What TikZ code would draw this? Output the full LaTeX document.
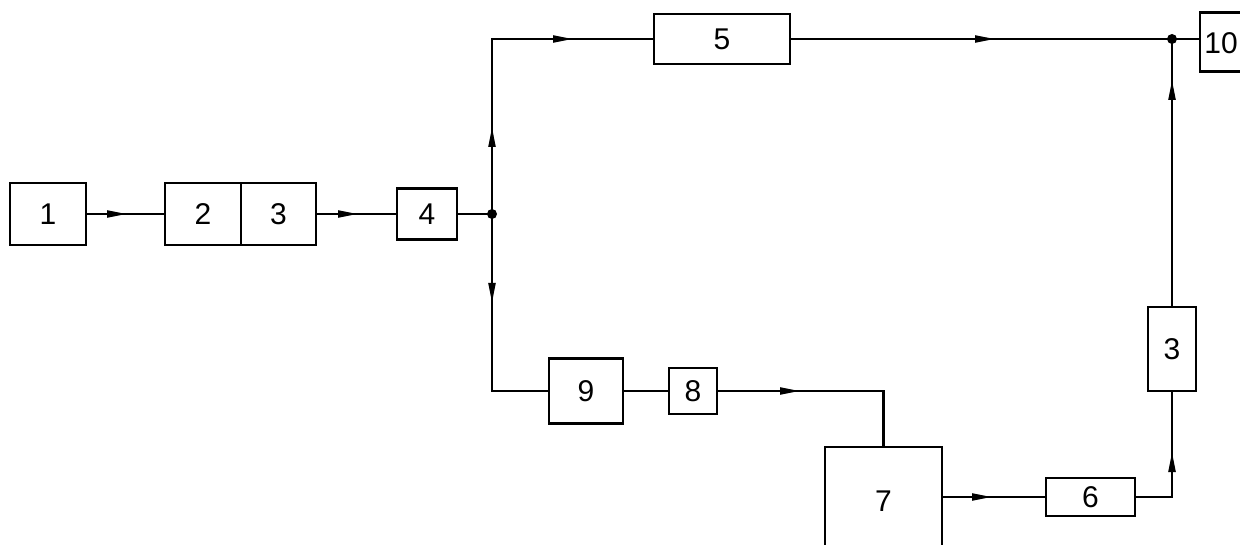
\documentclass[tikz,border=0pt]{standalone}
\usepackage{fontspec}
\setmainfont{Liberation Sans}
\usetikzlibrary{arrows.meta,decorations.markings}
\tikzset{
  blk/.style={draw, line width=2.5pt, inner sep=0pt, outer sep=0pt, font=\fontsize{30}{30}\selectfont},
  lbl/.style={inner sep=0pt, font=\fontsize{30}{30}\selectfont},
  conn/.style={line width=2.2pt},
  tipshape/.tip={Triangle[length=20pt,width=7pt]},
  arr/.style={postaction={decorate}, decoration={markings, mark=at position #1 with {\arrow{tipshape}}}},
  arrtwo/.style 2 args={postaction={decorate}, decoration={markings,
      mark=at position #1 with {\arrow{tipshape}},
      mark=at position #2 with {\arrow{tipshape}}}},
  jdot/.style={circle, fill, inner sep=0pt, minimum size=10pt},
}
\begin{document}
\begin{tikzpicture}[x=1pt,y=-1pt]
\useasboundingbox (0,0) rectangle (1240,545);
\clip (0,0) rectangle (1240,545);
\fill[white] (0,0) rectangle (1240,545);
% blocks
\node[blk, minimum width=76pt, minimum height=62pt] (b1) at (48,214) {1};
\node[blk, minimum width=76pt, minimum height=62pt] (b2) at (203,214) {2};
\node[blk, minimum width=75pt, minimum height=62pt] (b3) at (278.5,214) {3};
\node[blk, minimum width=60pt, minimum height=51pt] (b4) at (427,214) {4};
\node[jdot] (j1) at (492,214) {};
\node[blk, minimum width=136pt, minimum height=50pt] (b5) at (722,39) {5};
\node[jdot] (j2) at (1172,39) {};
\node[blk, minimum width=56pt, minimum height=59pt] (b10) at (1228,42) {};
\node[lbl] (t10) at (1221,43) {10};
\node[blk, minimum width=74pt, minimum height=65pt] (b9) at (586,391) {9};
\node[blk, minimum width=48pt, minimum height=46pt] (b8) at (693,391) {8};
\node[blk, minimum width=117pt, minimum height=108pt] (b7) at (883.5,501) {7};
\node[blk, minimum width=89pt, minimum height=38pt] (b6) at (1090.5,497) {6};
\node[blk, minimum width=48pt, minimum height=84pt] (b3r) at (1172,349) {3};
% connectors
\draw[conn, arr=41pt] (b1.east) -- (b2.west);
\draw[conn, arr=42pt] (b3.east) -- (b4.west);
\draw[conn] (b4.east) -- (j1.center);
\draw[conn, arrtwo={87pt}{256pt}] (j1.center) -- (j1.center |- b5.west) -- (b5.west);
\draw[conn, arr=89pt] (j1.center) -- (j1.center |- b9.west) -- (b9.west);
\draw[conn] (b9.east) -- (b8.west);
\draw[conn, arr=83pt] (b8.east) -- (b7.north |- b8.east) -- (b7.north);
\draw[conn, arr=50pt] (b7.east |- b6.west) -- (b6.west);
\draw[conn, arr=82pt] (b6.east) -- (b3r.south |- b6.east) -- (b3r.south);
\draw[conn, arr=227pt] (b3r.north) -- (j2.center);
\draw[conn, arr=205pt] (b5.east) -- (j2.center);
\draw[conn] (j2.center) -- (b10.west |- j2.center);
\end{tikzpicture}
\end{document}
